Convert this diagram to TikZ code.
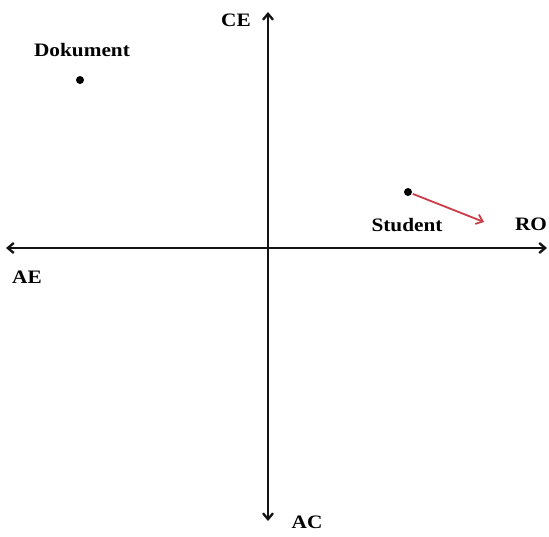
\documentclass[tikz,border=0pt]{standalone}
\usepackage{fontspec}
\setmainfont{Liberation Serif}
\usetikzlibrary{arrows.meta}

\begin{document}
\begin{tikzpicture}[x=1pt,y=-1pt,>={Straight Barb[length=6pt,width=10pt]},
 font=\bfseries\fontsize{19}{21}\selectfont,line width=2.3pt]
\definecolor{move}{RGB}{205,60,70}
\useasboundingbox (0,0) rectangle (549,536);
\tikzset{pt/.style={circle,fill,inner sep=0pt,minimum size=8pt},
 lbl/.style={xscale=1.12}}
% axes
\coordinate (top) at (268,12);
\coordinate (bottom) at (268,521);
\coordinate (left) at (6,248);
\coordinate (right) at (547,248);
\draw[<->,gray!15!black] (bottom)--(top);
\draw[<->,gray!15!black] (left)--(right);
\node[lbl] (ce) at (236,20) {CE};
\node[lbl] (ac) at (307,522) {AC};
\node[lbl] (ae) at (27,277) {AE};
\node[lbl] (ro) at (531,224) {RO};
% positions
\node[pt] (dok) at (80,80) {};
\node[lbl] (dokl) at (82,50) {Dokument};
\node[pt] (stu) at (408,192) {};
\node[lbl] (stul) at (407,225) {Student};
\coordinate (stunew) at (484,222);
\draw[->,move,line width=1.8pt] (stu)--(stunew);
\end{tikzpicture}
\end{document}
